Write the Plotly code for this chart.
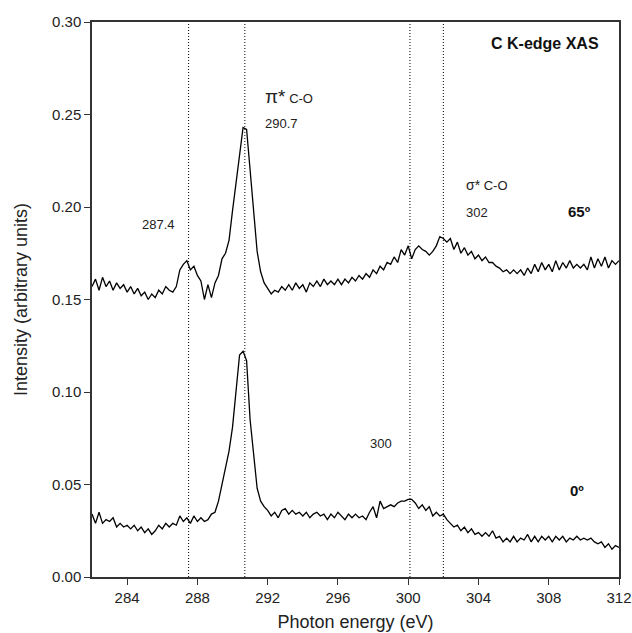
import plotly.graph_objects as go

energy = [
    282.0, 282.2, 282.4, 282.6, 282.8, 283.0, 283.2, 283.4, 283.6, 283.8,
    284.0, 284.2, 284.4, 284.6, 284.8, 285.0, 285.2, 285.4, 285.6, 285.8,
    286.0, 286.2, 286.4, 286.6, 286.8, 287.0, 287.2, 287.4, 287.6, 287.8,
    288.0, 288.2, 288.4, 288.6, 288.8, 289.0, 289.2, 289.4, 289.6, 289.8,
    290.0, 290.2, 290.4, 290.6, 290.8, 291.0, 291.2, 291.4, 291.6, 291.8,
    292.0, 292.2, 292.4, 292.6, 292.8, 293.0, 293.2, 293.4, 293.6, 293.8,
    294.0, 294.2, 294.4, 294.6, 294.8, 295.0, 295.2, 295.4, 295.6, 295.8,
    296.0, 296.2, 296.4, 296.6, 296.8, 297.0, 297.2, 297.4, 297.6, 297.8,
    298.0, 298.2, 298.4, 298.6, 298.8, 299.0, 299.2, 299.4, 299.6, 299.8,
    300.0, 300.2, 300.4, 300.6, 300.8, 301.0, 301.2, 301.4, 301.6, 301.8,
    302.0, 302.2, 302.4, 302.6, 302.8, 303.0, 303.2, 303.4, 303.6, 303.8,
    304.0, 304.2, 304.4, 304.6, 304.8, 305.0, 305.2, 305.4, 305.6, 305.8,
    306.0, 306.2, 306.4, 306.6, 306.8, 307.0, 307.2, 307.4, 307.6, 307.8,
    308.0, 308.2, 308.4, 308.6, 308.8, 309.0, 309.2, 309.4, 309.6, 309.8,
    310.0, 310.2, 310.4, 310.6, 310.8, 311.0, 311.2, 311.4, 311.6, 311.8,
    312.0,
]

intensity_65 = [
    0.157, 0.161, 0.155, 0.162, 0.157, 0.160, 0.155, 0.159, 0.156, 0.158,
    0.154, 0.157, 0.153, 0.156, 0.152, 0.154, 0.150, 0.153, 0.151, 0.155,
    0.153, 0.157, 0.155, 0.154, 0.157, 0.166, 0.169, 0.171, 0.166, 0.168,
    0.163, 0.160, 0.150, 0.158, 0.151, 0.159, 0.163, 0.172, 0.175, 0.182,
    0.198, 0.214, 0.230, 0.243, 0.242, 0.220, 0.196, 0.176, 0.165, 0.159,
    0.156, 0.153, 0.155, 0.154, 0.157, 0.155, 0.158, 0.155, 0.159, 0.156,
    0.158, 0.154, 0.159, 0.157, 0.160, 0.157, 0.161, 0.158, 0.160, 0.158,
    0.161, 0.158, 0.161, 0.159, 0.162, 0.160, 0.163, 0.161, 0.164, 0.162,
    0.166, 0.164, 0.168, 0.166, 0.170, 0.169, 0.173, 0.170, 0.177, 0.174,
    0.179, 0.172, 0.177, 0.179, 0.177, 0.176, 0.174, 0.176, 0.179, 0.184,
    0.183, 0.181, 0.183, 0.177, 0.181, 0.175, 0.178, 0.174, 0.176, 0.172,
    0.174, 0.171, 0.173, 0.170, 0.170, 0.168, 0.167, 0.165, 0.166, 0.164,
    0.166, 0.164, 0.166, 0.163, 0.167, 0.164, 0.169, 0.165, 0.170, 0.166,
    0.169, 0.165, 0.171, 0.166, 0.170, 0.167, 0.171, 0.167, 0.169, 0.167,
    0.169, 0.166, 0.173, 0.167, 0.172, 0.168, 0.173, 0.167, 0.171, 0.169,
    0.171,
]

intensity_0 = [
    0.034, 0.029, 0.035, 0.029, 0.031, 0.030, 0.032, 0.027, 0.029, 0.027,
    0.028, 0.026, 0.028, 0.025, 0.027, 0.024, 0.026, 0.023, 0.025, 0.028,
    0.026, 0.029, 0.027, 0.029, 0.028, 0.033, 0.030, 0.032, 0.029, 0.033,
    0.030, 0.032, 0.030, 0.031, 0.034, 0.035, 0.041, 0.050, 0.058, 0.068,
    0.081, 0.102, 0.120, 0.122, 0.117, 0.085, 0.068, 0.048, 0.041, 0.038,
    0.036, 0.033, 0.035, 0.032, 0.036, 0.037, 0.034, 0.036, 0.034, 0.035,
    0.033, 0.035, 0.032, 0.034, 0.035, 0.033, 0.034, 0.031, 0.034, 0.032,
    0.035, 0.033, 0.031, 0.034, 0.032, 0.034, 0.032, 0.033, 0.031, 0.035,
    0.038, 0.032, 0.041, 0.037, 0.038, 0.039, 0.038, 0.040, 0.041, 0.041,
    0.042, 0.042, 0.040, 0.037, 0.039, 0.036, 0.038, 0.033, 0.035, 0.033,
    0.034, 0.031, 0.029, 0.027, 0.028, 0.025, 0.027, 0.024, 0.026, 0.023,
    0.024, 0.022, 0.024, 0.022, 0.025, 0.021, 0.022, 0.019, 0.021, 0.019,
    0.022, 0.019, 0.021, 0.020, 0.023, 0.019, 0.022, 0.019, 0.022, 0.020,
    0.022, 0.019, 0.022, 0.020, 0.022, 0.019, 0.021, 0.020, 0.022, 0.020,
    0.021, 0.020, 0.021, 0.019, 0.018, 0.019, 0.016, 0.018, 0.015, 0.017,
    0.016,
]

marker_energies = [287.5, 290.7, 300.1, 302.0]

x_ticks = [284, 288, 292, 296, 300, 304, 308, 312]
y_ticks = [0.00, 0.05, 0.10, 0.15, 0.20, 0.25, 0.30]

FONT = "Liberation Sans, Arial, sans-serif"

fig = go.Figure()
fig.add_trace(go.Scatter(x=energy, y=intensity_65, mode="lines",
                         line=dict(color="black", width=1.3), showlegend=False))
fig.add_trace(go.Scatter(x=energy, y=intensity_0, mode="lines",
                         line=dict(color="black", width=1.3), showlegend=False))

for e in marker_energies:
    fig.add_shape(type="line", xref="x", yref="paper", x0=e, x1=e, y0=0, y1=1,
                  line=dict(color="black", width=1, dash="1px,2px"), layer="below")

ann_font = dict(family=FONT, size=13, color="#222")
annotations = [
    dict(x=291.73, y=0.2595,
         text="<span style='font-size:19px'>π*</span> C-O"),
    dict(x=291.73, y=0.2454, text="290.7"),
    dict(x=284.74, y=0.1903, text="287.4"),
    dict(x=303.2, y=0.2119,
         text="<span style='font-size:14px'>σ*</span> C-O"),
    dict(x=303.2, y=0.1973, text="302"),
    dict(x=297.7, y=0.0724, text="300"),
]
for a in annotations:
    fig.add_annotation(x=a["x"], y=a["y"], text=a["text"], showarrow=False,
                       xanchor="left", yanchor="middle", font=ann_font)

bold_font = dict(family=FONT, size=15, color="#111")
fig.add_annotation(x=310.95, y=0.2886, text="<b>C K-edge XAS</b>", showarrow=False,
                   xanchor="right", yanchor="middle",
                   font=dict(family=FONT, size=16, color="#111"))
fig.add_annotation(x=309.0, y=0.1978, text="<b>65º</b>", showarrow=False,
                   xanchor="left", yanchor="middle", font=bold_font)
fig.add_annotation(x=309.07, y=0.0465, text="<b>0º</b>", showarrow=False,
                   xanchor="left", yanchor="middle", font=bold_font)

axis_common = dict(
    showgrid=False, zeroline=False, showline=True, linecolor="#333", linewidth=1.5,
    mirror=True, ticks="outside", ticklen=6, tickwidth=1.3, tickcolor="#333",
    tickfont=dict(family=FONT, size=15, color="#222"),
)

fig.update_layout(
    width=632, height=633,
    margin=dict(l=92, r=13, t=22, b=56, autoexpand=False),
    paper_bgcolor="white", plot_bgcolor="white",
    xaxis=dict(range=[282, 312], tickvals=x_ticks,
               ticktext=[str(v) for v in x_ticks],
               title=dict(text="Photon energy (eV)", standoff=11,
                          font=dict(family=FONT, size=18, color="#222")),
               **axis_common),
    yaxis=dict(range=[0, 0.30], tickvals=y_ticks,
               ticktext=[f"{v:.2f}" for v in y_ticks],
               title=dict(text="Intensity (arbitrary units)", standoff=20,
                          font=dict(family=FONT, size=18, color="#222")),
               **axis_common),
)

fig.write_html("out.html")
